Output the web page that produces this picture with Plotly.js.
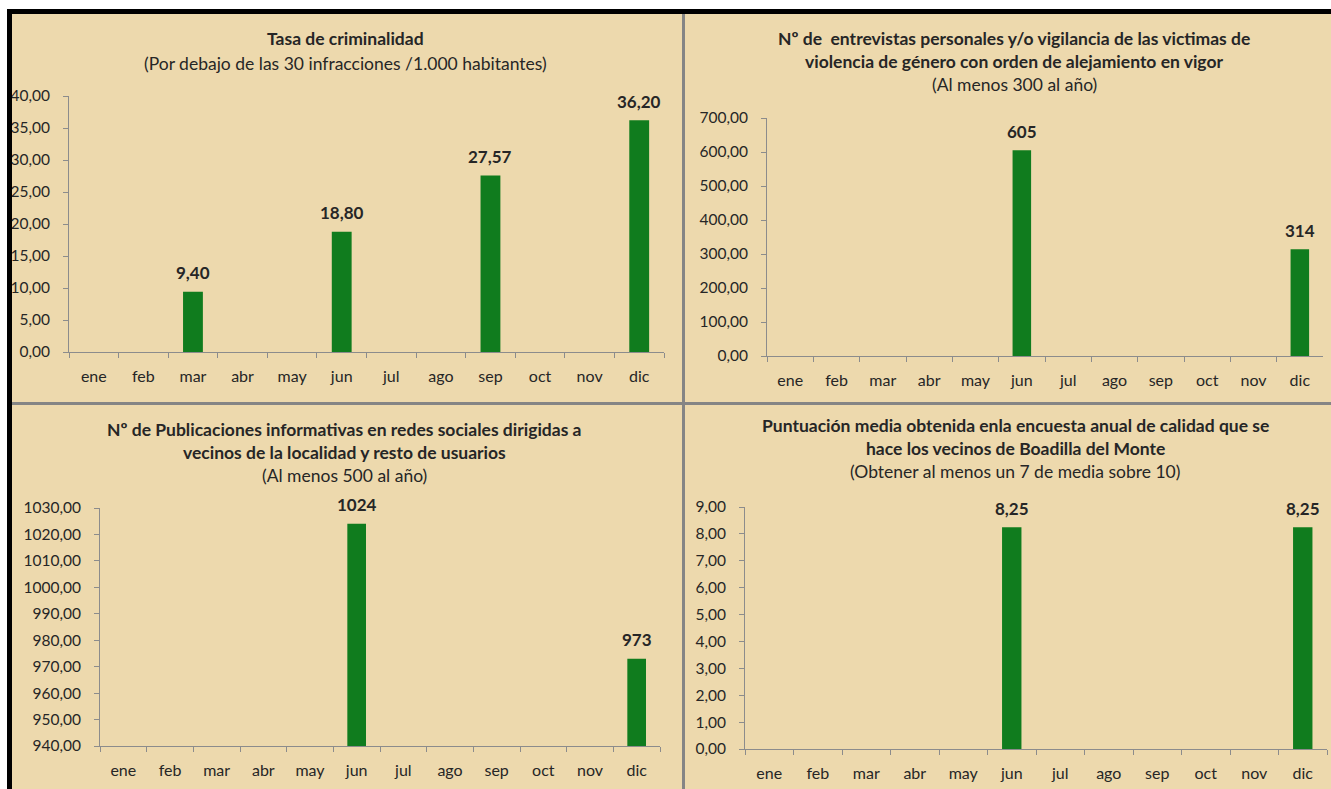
<!DOCTYPE html>
<html>
<head>
<meta charset="utf-8">
<script src="https://cdn.plot.ly/plotly-3.0.1.min.js"></script>
<style>html,body{margin:0;padding:0;background:#fff;}#chart{width:1331px;height:789px;}</style>
</head>
<body>
<div id="chart"></div>
<script>
// ---- data ----
const months = ['ene','feb','mar','abr','may','jun','jul','ago','sep','oct','nov','dic'];
const criminalidad = [null,null,9.40,null,null,18.80,null,null,27.57,null,null,36.20];
const entrevistas = [null,null,null,null,null,605,null,null,null,null,null,314];
const publicaciones = [null,null,null,null,null,1024,null,null,null,null,null,973];
const puntuacion = [null,null,null,null,null,8.25,null,null,null,null,null,8.25];

const titles1 = ['<b>Tasa de criminalidad</b>', '(Por debajo de las 30 infracciones /1.000 habitantes)'];
const titles2 = ['<b>Nº de  entrevistas personales y/o vigilancia de las victimas de</b>', '<b>violencia de género con orden de alejamiento en vigor</b>', '(Al menos 300 al año)'];
const titles3 = ['<b>Nº de Publicaciones informativas en redes sociales dirigidas a</b>', '<b>vecinos de la localidad y resto de usuarios</b>', '(Al menos 500 al año)'];
const titles4 = ['<b>Puntuación media obtenida enla encuesta anual de calidad que se</b>', '<b>hace los vecinos de Boadilla del Monte</b>', '(Obtener al menos un 7 de media sobre 10)'];

// ---- layout helpers ----
const W = 1331, H = 789;
const px = x => x / W;
const py = y => 1 - y / H;
const FONT = 'Lato, "Open Sans", sans-serif';
const TXT = '#262626';
const AX = '#8c8c8c';
const GREEN = '#107c1e';
const BG = '#edd9ad';

const panels = [
  {data: criminalidad, dec: 2, x0: 69, x1: 664, y0: 96, y1: 352, range: [0, 40], dtick: 5, titles: titles1, tx: 345, ty: [38, 63]},
  {data: entrevistas, dec: 0, x0: 767, x1: 1323, y0: 118, y1: 356, range: [0, 700], dtick: 100, titles: titles2, tx: 1014, ty: [38, 62, 84]},
  {data: publicaciones, dec: 0, x0: 100, x1: 660, y0: 508, y1: 746, range: [940, 1030], dtick: 10, titles: titles3, tx: 344, ty: [429, 452, 475]},
  {data: puntuacion, dec: 2, x0: 745, x1: 1327, y0: 507, y1: 749, range: [0, 9], dtick: 1, titles: titles4, tx: 1015, ty: [425, 448, 471]}
];

const fmt = (v, d) => v.toFixed(d).replace('.', ',');

const traces = [];
const annotations = [];
const layout = {
  width: W, height: H,
  margin: {l: 0, r: 0, t: 0, b: 0},
  paper_bgcolor: '#ffffff',
  plot_bgcolor: 'rgba(0,0,0,0)',
  separators: ',.',
  showlegend: false,
  font: {family: FONT, color: TXT, size: 15},
  bargap: 0.6,
  shapes: [
    {type: 'rect', xref: 'paper', yref: 'paper', x0: px(12), x1: 1, y0: 0, y1: py(14), fillcolor: BG, line: {width: 0}, layer: 'below'},
    {type: 'rect', xref: 'paper', yref: 'paper', x0: px(682), x1: px(685), y0: 0, y1: py(14), fillcolor: '#858585', line: {width: 0}, layer: 'below'},
    {type: 'rect', xref: 'paper', yref: 'paper', x0: px(12), x1: 1, y0: py(405), y1: py(402), fillcolor: '#858585', line: {width: 0}, layer: 'below'},
    {type: 'rect', xref: 'paper', yref: 'paper', x0: px(7), x1: 1, y0: py(14), y1: py(9), fillcolor: '#000000', line: {width: 0}, layer: 'above'},
    {type: 'rect', xref: 'paper', yref: 'paper', x0: px(7), x1: px(12), y0: 0, y1: py(9), fillcolor: '#000000', line: {width: 0}, layer: 'above'},
    {type: 'rect', xref: 'paper', yref: 'paper', x0: 0, x1: px(7), y0: 0, y1: 1, fillcolor: '#ffffff', line: {width: 0}, layer: 'above'}
  ],
  annotations: annotations
};

panels.forEach((p, i) => {
  const n = i + 1;
  const xa = n === 1 ? 'x' : 'x' + n;
  const ya = n === 1 ? 'y' : 'y' + n;
  traces.push({
    type: 'bar', x: months, y: p.data, xaxis: xa, yaxis: ya,
    marker: {color: GREEN, line: {width: 0}},
    hoverinfo: 'skip', cliponaxis: true
  });
  p.data.forEach((v, k) => {
    if (v === null) return;
    annotations.push({
      xref: xa, yref: ya, x: months[k], y: v, text: '<b>' + fmt(v, p.dec) + '</b>',
      showarrow: false, yanchor: 'middle', yshift: 19,
      font: {family: FONT, size: 17, color: TXT}
    });
  });
  p.titles.forEach((t, k) => {
    annotations.push({
      xref: 'paper', yref: 'paper', x: px(p.tx), y: py(p.ty[k]), xanchor: 'center', yanchor: 'middle',
      text: t, showarrow: false, font: {family: FONT, size: 17.5, color: TXT}
    });
  });
  layout['xaxis' + (n === 1 ? '' : n)] = {
    domain: [px(p.x0), px(p.x1)], anchor: ya,
    type: 'category', showgrid: false, zeroline: false,
    showline: true, linecolor: AX, linewidth: 1,
    ticks: 'outside', tickson: 'boundaries', ticklen: 5, tickcolor: AX,
    ticklabelstandoff: 10, tickfont: {family: FONT, size: 16, color: TXT},
    fixedrange: true
  };
  layout['yaxis' + (n === 1 ? '' : n)] = {
    domain: [py(p.y1), py(p.y0)], anchor: xa,
    range: p.range, dtick: p.dtick, tick0: p.range[0], tickformat: '.2f',
    showgrid: false, zeroline: false,
    showline: true, linecolor: AX, linewidth: 1,
    ticks: 'outside', ticklen: 5, tickcolor: AX,
    ticklabelstandoff: 10, tickfont: {family: FONT, size: 15.5, color: TXT},
    fixedrange: true
  };
});

Plotly.newPlot('chart', traces, layout, {displayModeBar: false, staticPlot: true});
</script>
</body>
</html>
